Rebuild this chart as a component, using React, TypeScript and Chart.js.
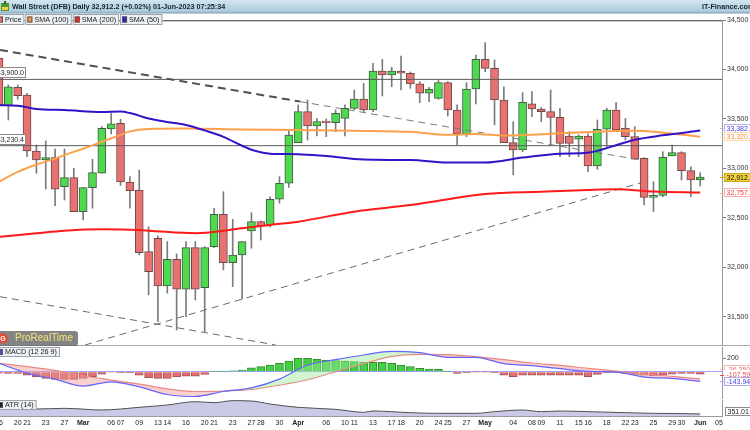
import React, { useEffect, useRef } from "react";
import { Chart, registerables } from "chart.js";

Chart.register(...registerables);

const FONT = "'Liberation Sans', Arial, Helvetica, sans-serif";
Chart.defaults.font.family = FONT;

// ---------- DATA (index 0 = 16-Feb-2023, one index per trading day) ----------
const OPEN = [34116,33634,33820,33742,33177,33086,33109,32816,32907,32564,
  32806,32952,33399,33456,32864,32783,32160,32295,31813,32083,
  31780,32200,31796,32210,32537,32048,32126,32369,32463,32429,
  32689,32851,33261,33574,33429,33480,33463,33507,33608,33702,
  33591,33985,33945,33985,33962,33854,33760,33709,33867,33591,
  33349,33803,34103,34012,33692,33261,33187,33652,33601,33574,
  33517,33328,33295,33328,33025,33396,33591,33409,33322,33103,
  32709,32729,33126,33160,32978,32884];
const HIGH = [34160,33845,33843,33760,33237,33278,33197,33197,33002,32806,
  33093,33423,33558,33497,32918,32985,32412,32320,32262,32137,
  32262,32262,32210,32598,32766,32487,32261,32554,32470,32715,
  32918,33389,33642,33692,33507,33500,33591,33642,33793,33861,
  34063,34103,34022,34136,33975,33877,33820,33894,33877,33642,
  33867,34146,34271,34096,33826,33473,33766,33776,33615,33793,
  33608,33372,33340,33350,33490,33610,33665,33507,33423,33110,
  32867,33170,33237,33170,33018,32958];
const LOW = [33600,33490,33699,33120,32952,32793,32625,32682,32564,32480,
  32598,32952,33349,32830,32598,32127,31723,31453,31740,31369,
  31503,31672,31352,32200,31975,31807,31679,32194,32278,32412,
  32649,32810,33261,33288,33328,33322,33372,33328,33591,33574,
  33574,33732,33826,33793,33810,33665,33675,33700,33530,33237,
  33322,33652,33978,33440,33261,32935,33170,33524,33473,33237,
  33120,33120,33120,32968,32992,33220,33380,33288,33093,32632,
  32564,32715,33126,32884,32715,32823];
const CLOSE = [33641,33826,33735,33177,33086,33109,32790,32907,32564,32806,
  32958,33406,33450,32864,32777,32150,31958,31813,32083,31780,
  32200,31780,32200,32537,32048,32126,32261,32463,32419,32689,
  32851,33338,33574,33429,33473,33463,33558,33608,33702,33591,
  33985,33945,33985,33962,33854,33760,33800,33867,33591,33349,
  33803,34103,34012,33692,33261,33187,33669,33601,33574,33517,
  33254,33254,33328,33025,33396,33591,33389,33322,33093,32709,
  32729,33113,33160,32978,32884,32912.2];

const SMA50_IDX = [0,2,4,7,11,13,14,16,18,20,22,24,26,27,29,32,35,39,44,48,52,56,60,63,66,68,71,75];
const SMA50_VAL = [33640,33635,33600,33590,33570,33575,33560,33505,33470,33440,33385,33320,33230,33190,33150,33145,33125,33090,33085,33060,33060,33110,33150,33160,33235,33290,33335,33382.6];
const SMA100_IDX = [0,2,4,6,7,9,11,13,14,16,20,26,32,38,44,48,51,54,58,61,64,66,68,71,75];
const SMA100_VAL = [32865,32965,33040,33100,33135,33200,33270,33340,33375,33400,33405,33395,33390,33382,33370,33340,33348,33332,33345,33362,33372,33378,33382,33362,33320.4];
const SMA200_IDX = [0,4,7,11,14,16,21,26,29,32,38,44,48,52,58,63,66,70,75];
const SMA200_VAL = [32310,32345,32370,32385,32380,32372,32346,32396,32430,32463,32564,32631,32689,32743,32766,32783,32790,32768,32757.3];

const TREND_UPPER_IDX = [0.107, 32.2];
const TREND_UPPER_VAL = [34197, 33676];
const TREND_UPPER2_IDX = [32.2, 68.6];
const TREND_UPPER2_VAL = [33676, 33086];
const TREND_LOWER_IDX = [0.107, 29.6];
const TREND_LOWER_VAL = [31705, 31217];
const TREND_RISING_IDX = [9.2, 68.6];
const TREND_RISING_VAL = [31217, 32854];
const HLINES = [33900, 33230.4];

const PRICE_TICKS = [31500, 32000, 32500, 33000, 33500, 34000, 34500];

const MACD_IDX = [0,3,6,9,12,15,18,21,24,27,30,33,36,39,42,45,48,51,54,57,60,63,66,69,72,75];
const MACD_VAL = [125,-20,-110,-215,-150,-225,-340,-370,-295,-240,-110,100,180,250,305,285,215,215,120,90,45,5,-5,-80,-100,-143.94];
const SIGNAL_VAL = [125,75,20,-60,-125,-185,-255,-295,-290,-265,-200,-120,0,120,230,260,255,225,180,130,95,50,10,-35,-70,-107.59];
const HIST_VAL = [-20,-25,-25,-50,-75,-100,-115,-115,-115,-100,-75,-35,-5,-15,-15,-50,-90,-100,-100,-75,-65,-65,-40,
  5,5,15,25,60,75,100,125,160,200,200,185,175,165,160,150,140,140,140,125,100,75,50,40,35,
  3,-25,-15,-3,-3,-15,-50,-75,-50,-50,-50,-50,-50,-50,-50,-75,-40,-15,-15,-25,-40,-50,-60,-50,-35,-25,-25,-36.35];

const ATR_IDX = [0,4,7,11,13,15,18,21,23,25,27,29,32,36,39,40,44,47,51,53,56,58,60,63,67,70,72,75];
const ATR_VAL = [435,425,435,410,425,450,485,535,520,550,545,500,450,420,375,395,370,360,360,385,410,385,395,385,370,360,358,351.01];

const TICK_IDX = [0,2,3,5,7,9,12,13,15,17,18,20,22,23,25,27,28,30,32,35,37,38,40,42,43,45,47,48,50,52,55,57,58,60,62,63,65,67,68,70,72,73,75,77];
const TICK_LABELS = ["16","20","21","23","27","Mar","06","07","09","13","14","16","20","21","23","27","28","30","Apr","06","10","11","13","17","18","20","24","25","27","May","04","08","09","11","15","16","18","22","23","25","29","30","Jun","05"];

const HEADER = "Wall Street (DFB) Daily 32,912.2 (+0.02%) 01-Jun-2023 07:25:34";
const BRAND = "IT-Finance.com";

// ---------- LAYOUT ----------
const W = 750;
const X_MIN = 0.107;
const X_MAX = 77.33;
const AXIS_W = 28;

const fmt1 = (v: number) => v.toLocaleString("en-US", { minimumFractionDigits: 1, maximumFractionDigits: 1 });

const xScale = (display: boolean) => ({
  type: "linear",
  min: X_MIN,
  max: X_MAX,
  offset: false,
  display,
  grid: { display: false, offset: false },
});

const yAfterFit = (s: any) => {
  s.width = AXIS_W;
  s.paddingTop = 0;
  s.paddingBottom = 0;
};

const lineDs = (xs: number[], ys: number[], color: string, width: number, dash: number[], order: number, smooth = true) => ({
  type: "line",
  data: xs.map((x, k) => ({ x, y: ys[k] })),
  borderColor: color,
  borderWidth: width,
  borderDash: dash,
  pointRadius: 0,
  fill: false,
  cubicInterpolationMode: smooth ? "monotone" : "default",
  order,
});

function drawTab(ctx: any, x: number, y: number, h: number, color: string, text: string) {
  ctx.save();
  ctx.font = `7.2px ${FONT}`;
  const tw = ctx.measureText(text).width;
  const w = 9 + tw + 3;
  ctx.fillStyle = "#eef1f4";
  ctx.fillRect(x, y, w, h);
  ctx.strokeStyle = "#9aa3ad";
  ctx.lineWidth = 1;
  ctx.strokeRect(x + 0.5, y + 0.5, w - 1, h - 1);
  ctx.fillStyle = color;
  ctx.fillRect(x + 2, y + (h - 6) / 2, 5, 6);
  ctx.strokeStyle = "#555";
  ctx.strokeRect(x + 2.5, y + (h - 6) / 2 + 0.5, 4, 5);
  ctx.fillStyle = "#1a1a1a";
  ctx.textBaseline = "middle";
  ctx.textAlign = "left";
  ctx.fillText(text, x + 9, y + h / 2 + 0.5);
  ctx.restore();
  return x + w + 1;
}

function drawTag(ctx: any, y: number, text: string, o: { bg: string; border?: string; color: string }) {
  const x = 724;
  const h = 9;
  ctx.save();
  ctx.strokeStyle = o.border || o.color;
  ctx.lineWidth = 1;
  ctx.beginPath();
  ctx.moveTo(720, Math.round(y) + 0.5);
  ctx.lineTo(724, Math.round(y) + 0.5);
  ctx.stroke();
  ctx.fillStyle = o.bg;
  ctx.fillRect(x, Math.round(y - h / 2), 30, h);
  if (o.border) {
    ctx.strokeStyle = o.border;
    ctx.strokeRect(x + 0.5, Math.round(y - h / 2) + 0.5, 30, h - 1);
  }
  ctx.fillStyle = o.color;
  ctx.font = `7px ${FONT}`;
  ctx.textBaseline = "middle";
  ctx.textAlign = "left";
  ctx.fillText(text, x + 2.5, y + 0.5);
  ctx.restore();
}

const pricePlugin = {
  id: "priceDecor",
  afterDraw(chart: any) {
    const { ctx, chartArea: a, scales } = chart;
    const ys = scales.y;
    ctx.save();
    // panel top border
    ctx.strokeStyle = "#6a6a6a";
    ctx.lineWidth = 1;
    ctx.beginPath();
    ctx.moveTo(0, a.top + 0.5);
    ctx.lineTo(a.right, a.top + 0.5);
    ctx.stroke();
    ctx.strokeStyle = "#c8c8c8";
    ctx.beginPath();
    ctx.moveTo(0, a.top + 1.5);
    ctx.lineTo(a.right, a.top + 1.5);
    ctx.stroke();
    // panel bottom border
    ctx.strokeStyle = "#a8a8a8";
    ctx.beginPath();
    ctx.moveTo(0, a.bottom + 0.5);
    ctx.lineTo(W, a.bottom + 0.5);
    ctx.stroke();

    // header bar
    const g = ctx.createLinearGradient(0, 0, 0, 13);
    g.addColorStop(0, "#d4e6f0");
    g.addColorStop(1, "#a5c5d7");
    ctx.fillStyle = g;
    ctx.fillRect(0, 0, W, 13);
    ctx.fillStyle = "#7f9cb0";
    ctx.fillRect(0, 12.5, W, 1);
    // icon
    ctx.fillStyle = "#4d9a2e";
    ctx.fillRect(1, 3, 8, 8);
    ctx.fillStyle = "#f2d43a";
    ctx.fillRect(2, 7, 6, 3);
    ctx.fillStyle = "#2c6e16";
    ctx.fillRect(4, 1, 2, 3);
    ctx.font = `bold 7.2px ${FONT}`;
    ctx.fillStyle = "#17232e";
    ctx.textBaseline = "middle";
    ctx.textAlign = "left";
    ctx.fillText(HEADER, 12, 7);
    ctx.fillText(BRAND, 702, 7);

    // legend tabs
    let tx = -4;
    tx = drawTab(ctx, tx, 14, 11, "#e87070", "Price");
    tx = drawTab(ctx, tx, 14, 11, "#ff9a3c", "SMA (100)");
    tx = drawTab(ctx, tx, 14, 11, "#ff1e1e", "SMA (200)");
    drawTab(ctx, tx, 14, 11, "#3018c8", "SMA (50)");

    // horizontal line labels (left)
    HLINES.forEach((h) => {
      const py = Math.round(ys.getPixelForValue(h));
      ctx.fillStyle = "#ffffff";
      ctx.fillRect(-6, py - 12, 32, 11);
      ctx.strokeStyle = "#8a8a8a";
      ctx.strokeRect(-5.5, py - 11.5, 31, 10);
      ctx.fillStyle = "#222";
      ctx.font = `7px ${FONT}`;
      ctx.textAlign = "right";
      ctx.textBaseline = "middle";
      ctx.fillText(fmt1(h), 24, py - 6);
    });

    // ProRealTime badge
    ctx.fillStyle = "rgba(105,105,105,0.82)";
    ctx.beginPath();
    (ctx as any).roundRect ? ctx.roundRect(-4, 331, 82, 15, 3) : ctx.rect(-4, 331, 82, 15);
    ctx.fill();
    ctx.fillStyle = "#e84a3a";
    ctx.beginPath();
    ctx.arc(3, 338.5, 5, 0, Math.PI * 2);
    ctx.fill();
    ctx.fillStyle = "#ffffff";
    ctx.font = `bold 7px ${FONT}`;
    ctx.textAlign = "center";
    ctx.fillText("G", 3, 339);
    ctx.fillStyle = "#f2e47a";
    ctx.font = `10px ${FONT}`;
    ctx.textAlign = "left";
    ctx.fillText("ProRealTime", 15, 338.5);

    // right value tags
    const yOrange = ys.getPixelForValue(SMA100_VAL[SMA100_VAL.length - 1]);
    const yBlue = Math.min(ys.getPixelForValue(SMA50_VAL[SMA50_VAL.length - 1]), yOrange - 8.5);
    drawTag(ctx, yBlue, fmt1(SMA50_VAL[SMA50_VAL.length - 1]), { bg: "#ffffff", border: "#b4b4f0", color: "#3c3cdc" });
    drawTag(ctx, yOrange, fmt1(SMA100_VAL[SMA100_VAL.length - 1]), { bg: "#ffffff", border: "#ffd8b0", color: "#ff9030" });
    drawTag(ctx, ys.getPixelForValue(CLOSE[CLOSE.length - 1]), fmt1(CLOSE[CLOSE.length - 1]), { bg: "#f3d23e", border: "#c9a820", color: "#111" });
    drawTag(ctx, ys.getPixelForValue(SMA200_VAL[SMA200_VAL.length - 1]), fmt1(SMA200_VAL[SMA200_VAL.length - 1]), { bg: "#ffffff", border: "#f2b0b0", color: "#f03a3a" });
    ctx.restore();
  },
};

const macdPlugin = {
  id: "macdDecor",
  afterDraw(chart: any) {
    const { ctx, chartArea: a, scales } = chart;
    const ys = scales.y;
    ctx.save();
    ctx.strokeStyle = "#a8a8a8";
    ctx.lineWidth = 1;
    ctx.beginPath();
    ctx.moveTo(0, a.bottom + 0.5);
    ctx.lineTo(W, a.bottom + 0.5);
    ctx.stroke();
    drawTab(ctx, -4, a.top, 10, "#4a4ae8", "MACD (12 26 9)");
    const hLast = HIST_VAL[HIST_VAL.length - 1];
    const sLast = SIGNAL_VAL[SIGNAL_VAL.length - 1];
    const mLast = MACD_VAL[MACD_VAL.length - 1];
    const yM = ys.getPixelForValue(mLast);
    const yS = Math.min(ys.getPixelForValue(sLast), yM - 6.5);
    const yH = Math.min(ys.getPixelForValue(hLast), yS - 5.5);
    drawTag(ctx, yH, hLast.toPrecision(5), { bg: "#ffffff", border: "#f2b8b8", color: "#e87070" });
    drawTag(ctx, yS, sLast.toPrecision(5), { bg: "#ffffff", color: "#e85050" });
    drawTag(ctx, yM, mLast.toPrecision(5), { bg: "#ffffff", border: "#a8a8f0", color: "#4040e0" });
    ctx.restore();
  },
};

const atrPlugin = {
  id: "atrDecor",
  afterDraw(chart: any) {
    const { ctx, chartArea: a, scales } = chart;
    ctx.save();
    drawTab(ctx, -4, a.top, 10, "#222222", "ATR (14)");
    const last = ATR_VAL[ATR_VAL.length - 1];
    ctx.fillStyle = "#ffffff";
    ctx.fillRect(725, a.top + 7, 26, 9);
    ctx.strokeStyle = "#8a8a8a";
    ctx.strokeRect(725.5, a.top + 7.5, 26, 8);
    ctx.fillStyle = "#222";
    ctx.font = `7px ${FONT}`;
    ctx.textBaseline = "middle";
    ctx.textAlign = "left";
    ctx.fillText(last.toPrecision(5), 727.5, a.top + 12);
    ctx.restore();
  },
};

function priceConfig(): any {
  const idx = OPEN.map((_, i) => i);
  const up = (i: number) => CLOSE[i] >= OPEN[i];
  return {
    type: "bar",
    data: {
      datasets: [
        {
          type: "bar",
          data: idx.map((i) => ({ x: i, y: [LOW[i], HIGH[i]] })),
          backgroundColor: "#7c7c7c",
          barThickness: 1,
          grouped: false,
          order: 20,
        },
        {
          type: "bar",
          data: idx.map((i) => ({ x: i, y: [OPEN[i], CLOSE[i]] })),
          backgroundColor: idx.map((i) => (up(i) ? "#50d850" : "#e87272")),
          borderColor: idx.map((i) => (up(i) ? "#3f5f3f" : "#6e4848")),
          borderWidth: 1,
          borderSkipped: false,
          barThickness: 8,
          minBarLength: 1,
          grouped: false,
          order: 19,
        },
        lineDs([X_MIN, X_MAX], [HLINES[0], HLINES[0]], "#5a5a5a", 1, [], 9, false),
        lineDs([X_MIN, X_MAX], [HLINES[1], HLINES[1]], "#5a5a5a", 1, [], 9, false),
        lineDs(TREND_UPPER_IDX, TREND_UPPER_VAL, "#505050", 2, [8, 5], 8, false),
        lineDs(TREND_UPPER2_IDX, TREND_UPPER2_VAL, "#7a7a7a", 1, [7, 5], 8, false),
        lineDs(TREND_LOWER_IDX, TREND_LOWER_VAL, "#6a6a6a", 1, [7, 5], 8, false),
        lineDs(TREND_RISING_IDX, TREND_RISING_VAL, "#6a6a6a", 1, [7, 5], 8, false),
        lineDs(SMA200_IDX, SMA200_VAL, "#ff1a1a", 2, [], 3),
        lineDs(SMA100_IDX, SMA100_VAL, "#ffa04a", 2, [], 2),
        lineDs(SMA50_IDX, SMA50_VAL, "#3412c8", 2, [], 1),
      ],
    },
    options: {
      animation: false,
      responsive: false,
      events: [],
      layout: { padding: { top: 20, bottom: 1, left: 0, right: 0 } },
      plugins: { legend: { display: false }, tooltip: { enabled: false } },
      scales: {
        x: xScale(false),
        y: {
          position: "right",
          min: 31217,
          max: 34500,
          afterFit: yAfterFit,
          afterBuildTicks: (s: any) => {
            s.ticks = PRICE_TICKS.map((v) => ({ value: v }));
          },
          ticks: {
            color: "#333",
            font: { size: 7, family: FONT },
            padding: 1,
            callback: (v: any) => Number(v).toLocaleString("en-US"),
          },
          grid: { drawOnChartArea: false, drawTicks: true, tickLength: 4, tickColor: "#777" },
          border: { display: true, color: "#9a9a9a" },
        },
      },
    },
    plugins: [pricePlugin],
  };
}

function macdConfig(): any {
  const idx = HIST_VAL.map((_, i) => i);
  return {
    type: "bar",
    data: {
      datasets: [
        {
          type: "bar",
          data: idx.map((i) => ({ x: i, y: HIST_VAL[i] })),
          backgroundColor: idx.map((i) => (HIST_VAL[i] >= 0 ? "#44cf44" : "#e46e6e")),
          borderColor: idx.map((i) => (HIST_VAL[i] >= 0 ? "#2e8e2e" : "#a65050")),
          borderWidth: 1,
          barThickness: 8,
          grouped: false,
          order: 10,
        },
        {
          ...lineDs(MACD_IDX, MACD_VAL, "#6464ff", 1.2, [], 1),
          fill: { target: "+1", above: "rgba(150,232,150,0.45)", below: "rgba(240,150,150,0.45)" },
        },
        lineDs(MACD_IDX, SIGNAL_VAL, "#f08080", 1.2, [], 2),
      ],
    },
    options: {
      animation: false,
      responsive: false,
      events: [],
      layout: { padding: { top: 1, bottom: 0, left: 0, right: 0 } },
      plugins: { legend: { display: false }, tooltip: { enabled: false } },
      scales: {
        x: xScale(false),
        y: {
          position: "right",
          min: -407,
          max: 369,
          afterFit: yAfterFit,
          afterBuildTicks: (s: any) => {
            s.ticks = [{ value: 0 }, { value: 200 }];
          },
          ticks: {
            color: "#333",
            font: { size: 7, family: FONT },
            padding: 1,
            callback: (v: any) => (Number(v) === 200 ? "200" : ""),
          },
          grid: {
            drawOnChartArea: true,
            drawTicks: true,
            tickLength: 4,
            color: (c: any) => (c.tick && c.tick.value === 0 ? "#a0a0ff" : "rgba(0,0,0,0)"),
            tickColor: (c: any) => (c.tick && c.tick.value === 200 ? "#777" : "rgba(0,0,0,0)"),
          },
          border: { display: true, color: "#9a9a9a" },
        },
      },
    },
    plugins: [macdPlugin],
  };
}

function atrConfig(): any {
  return {
    type: "line",
    data: {
      datasets: [
        {
          ...lineDs(ATR_IDX, ATR_VAL, "#505050", 1, [], 1),
          fill: "start",
          backgroundColor: "rgba(196,196,230,0.9)",
        },
      ],
    },
    options: {
      animation: false,
      responsive: false,
      events: [],
      layout: { padding: { top: 1, bottom: 0, left: 0, right: 0 } },
      plugins: { legend: { display: false }, tooltip: { enabled: false } },
      scales: {
        x: {
          type: "linear",
          position: "bottom",
          min: X_MIN,
          max: X_MAX,
          offset: false,
          afterBuildTicks: (s: any) => {
            s.ticks = TICK_IDX.map((v) => ({ value: v }));
          },
          afterFit: (s: any) => {
            s.height = 14;
            s.paddingLeft = 0;
            s.paddingRight = 0;
          },
          ticks: {
            autoSkip: false,
            maxRotation: 0,
            minRotation: 0,
            padding: 1,
            color: "#222",
            font: (c: any) => ({
              size: 7,
              family: FONT,
              weight: /[A-Za-z]/.test(TICK_LABELS[c.index] || "") ? "bold" : "normal",
            }),
            callback: (_v: any, i: number) => TICK_LABELS[i],
          },
          grid: { drawOnChartArea: false, drawTicks: true, tickLength: 2, tickColor: "rgba(0,0,0,0)", offset: false },
          border: { display: true, color: "#9a9a9a" },
        },
        y: {
          position: "right",
          min: 320,
          max: 560,
          afterFit: yAfterFit,
          ticks: { display: false },
          grid: { drawOnChartArea: false, drawTicks: false },
          border: { display: true, color: "#9a9a9a" },
        },
      },
    },
    plugins: [atrPlugin],
  };
}

function ChartCanvas({ top, height, make }: { top: number; height: number; make: () => any }) {
  const ref = useRef<HTMLCanvasElement | null>(null);
  useEffect(() => {
    if (!ref.current) return;
    const c = new Chart(ref.current, make());
    return () => c.destroy();
  }, []);
  return (
    <canvas
      ref={ref}
      width={W}
      height={height}
      style={{ position: "absolute", left: 0, top, width: W, height, display: "block" }}
    />
  );
}

export default function App() {
  return (
    <div
      style={{
        position: "fixed",
        left: 0,
        top: 0,
        width: W,
        height: 430,
        background: "#ffffff",
        overflow: "hidden",
      }}
    >
      <ChartCanvas top={0} height={346} make={priceConfig} />
      <ChartCanvas top={346} height={53} make={macdConfig} />
      <ChartCanvas top={399} height={31} make={atrConfig} />
    </div>
  );
}
